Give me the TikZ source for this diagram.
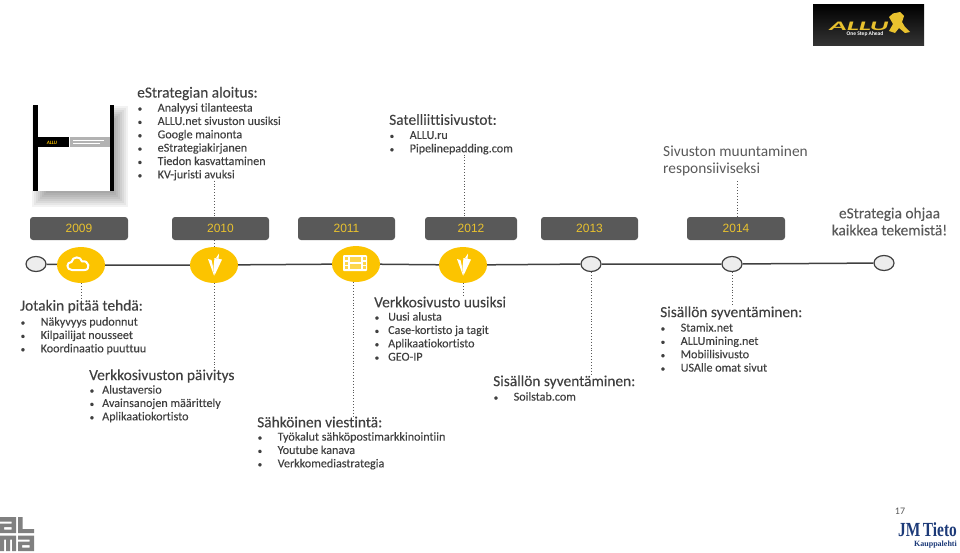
\documentclass[tikz,border=0pt]{standalone}
\usepackage{fontspec}
\setmainfont{Carlito}[Ligatures=NoCommon, FakeBold=0.12]
\newfontfamily\softfont{Carlito}[Ligatures=NoCommon]
\newfontfamily\yearfont{Liberation Sans}
\newfontfamily\logofont{Liberation Serif}
\usetikzlibrary{positioning,shapes.geometric}

\definecolor{txtgrey}{HTML}{404040}
\definecolor{softgrey}{HTML}{595959}
\definecolor{boxgrey}{HTML}{595959}
\definecolor{yeargold}{HTML}{E9C22E}
\definecolor{hubgold}{HTML}{FCC400}
\definecolor{almagrey}{HTML}{808080}
\definecolor{jmblue}{HTML}{1C3A78}

\newcommand{\itm}[2][20pt]{\makebox[#1][l]{\fontsize{9}{10}\selectfont\textbullet}#2}

\tikzset{
  yearbox/.style={rectangle, fill=boxgrey, rounded corners=3pt, minimum height=23pt, inner sep=0pt, text=yeargold, font=\yearfont\fontsize{12}{14}\selectfont},
  hub/.style={ellipse, fill=hubgold, minimum width=48pt, minimum height=36pt, inner sep=0pt},
  stop/.style={ellipse, draw=txtgrey, line width=1.2pt, fill=white!93!black, minimum width=20pt, minimum height=15pt, inner sep=0pt},
  head/.style={anchor=west, inner sep=0pt, text=txtgrey, font=\fontsize{15.4}{17}\selectfont},
  items/.style={anchor=north west, inner sep=0pt, align=left, text=txtgrey, font=\fontsize{12.1}{13.35}\selectfont},
  leader/.style={dotted, line width=0.9pt, draw=softgrey},
  carrot/.pic={
    \fill[white] (-6,-6) -- (-2.5,-5) -- (-0.5,4) -- (0,10.5) -- cycle;
    \fill[white] (0.5,-7) -- (8,-5.5) -- (0.5,10.5) -- (-0.5,2) -- cycle;
    \fill[white] (2,-7) -- (5,-11.5) -- (4.5,-6) -- cycle;
  }
}

\begin{document}
\begin{tikzpicture}[x=1pt, y=-1pt]
\useasboundingbox (0,0) rectangle (960,552);

% Year boxes
\node (y2009) [yearbox, minimum width=98pt] at (79,228.5) {2009};
\node (y2010) [yearbox, minimum width=97pt] at (220.5,228.5) {2010};
\node (y2011) [yearbox, minimum width=97pt] at (346.5,228.5) {2011};
\node (y2012) [yearbox, minimum width=92pt] at (471,228.5) {2012};
\node (y2013) [yearbox, minimum width=97pt] at (589.5,228.5) {2013};
\node (y2014) [yearbox, minimum width=98pt] at (736,228.5) {2014};

% Timeline stops
\node (start) [stop] at (36,264) {};
\node (hub2009) [hub] at (81,265) {};
\node (hub2010) [hub] at (214,265) {};
\node (hub2011) [hub] at (356,264) {};
\node (hub2012) [hub] at (463,265) {};
\node (stop2013) [stop] at (591,264) {};
\node (stop2014) [stop] at (732,264) {};
\node (finish) [stop] at (884,263) {};

\draw[line width=1.5pt, draw=txtgrey] (start) -- (hub2009) -- (hub2010) -- (hub2011) -- (hub2012) -- (stop2013) -- (stop2014) -- (finish);

% Upper texts
\node (aloitus) [head] at (137,93.5) {eStrategian aloitus:};
\node (aloituslist) [items] at (137.5,103) {\itm{Analyysi tilanteesta}\\ \itm{ALLU.net sivuston uusiksi}\\ \itm{Google mainonta}\\ \itm{eStrategiakirjanen}\\ \itm{Tiedon kasvattaminen}\\ \itm{KV-juristi avuksi}};
\node (satelliitti) [head] at (389,119.5) {Satelliittisivustot:};
\node (satelliittilist) [items] at (389.5,131) {\itm{ALLU.ru}\\ \itm{Pipelinepadding.com}};
\node (muunto) [head, align=left, anchor=north west, text=softgrey, font=\softfont\fontsize{15.4}{17}\selectfont] at (663,146) {Sivuston muuntaminen\\ responsiiviseksi};
\node (ohjaa) [align=center, inner sep=0pt, text=softgrey, font=\fontsize{15.4}{17}\selectfont] at (889.5,221.5) {eStrategia ohjaa\\ kaikkea tekemistä!};

% Lower texts
\node (tehda) [head] at (20,306.5) {Jotakin pitää tehdä:};
\node (tehdalist) [items] at (20.5,317) {\itm{Näkyvyys pudonnut}\\ \itm{Kilpailijat nousseet}\\ \itm{Koordinaatio puuttuu}};
\node (paivitys) [head] at (89,376) {Verkkosivuston päivitys};
\node (paivityslist) [items] at (89.5,385) {\itm[12.5pt]{Alustaversio}\\ \itm[12.5pt]{Avainsanojen määrittely}\\ \itm[12.5pt]{Aplikaatiokortisto}};
\node (viestinta) [head] at (257,422) {Sähköinen viestintä:};
\node (viestintalist) [items] at (257.5,432) {\itm{Työkalut sähköpostimarkkinointiin}\\ \itm{Youtube kanava}\\ \itm{Verkkomediastrategia}};
\node (uusiksi) [head] at (374,302) {Verkkosivusto uusiksi};
\node (uusiksilist) [items] at (374.5,312) {\itm[13.5pt]{Uusi alusta}\\ \itm[13.5pt]{Case-kortisto ja tagit}\\ \itm[13.5pt]{Aplikaatiokortisto}\\ \itm[13.5pt]{GEO-IP}};
\node (syventaa) [head] at (493,382) {Sisällön syventäminen:};
\node (syventaalist) [items] at (493.5,392) {\itm{Soilstab.com}};
\node (sisalto) [head] at (660,313) {Sisällön syventäminen:};
\node (sisaltolist) [items] at (660.5,323) {\itm{Stamix.net}\\ \itm{ALLUmining.net}\\ \itm{Mobiilisivusto}\\ \itm{USAlle omat sivut}};

% Dotted leaders
\draw[leader] (aloituslist.south -| hub2010) -- (y2010.north -| hub2010);
\draw[leader] (y2010.south -| hub2010) -- (hub2010);
\draw[leader] (hub2010) -- (paivitys.north -| hub2010);
\draw[leader] (hub2009) -- (tehda.north -| hub2009);
\draw[leader] (hub2011) ++(-3,0) coordinate (drop2011) (drop2011 |- hub2011.south) -- (drop2011 |- viestinta.north);
\draw[leader] (satelliittilist.south -| hub2012) ++(1.5,0) coordinate (drop2012) -- (drop2012 |- y2012.north);
\draw[leader] (hub2012) -- (uusiksi.north -| hub2012);
\draw[leader] (stop2013) -- (syventaa.north -| stop2013);
\draw[leader] (muunto.south -| y2014) ++(1,5) coordinate (drop2014) -- (drop2014 |- y2014.north);
\draw[leader] (stop2014) -- (sisalto.north -| stop2014);

% Hub icons
\draw[white, line width=2pt, line join=round] (72,270) .. controls (66,270) and (66,262) .. (71.5,262) .. controls (72.5,256) and (81,256) .. (82,261.5) .. controls (89,259.5) and (91,270) .. (84.5,270) -- cycle;
\pic at (hub2010) {carrot};
\pic at (hub2012) {carrot};
\fill[white, rounded corners=1pt] (343,255) rectangle (367,271);
\foreach \yy in {257,261.5,266} {
  \fill[hubgold!70] (345,\yy) rectangle (348,\yy+3);
  \fill[hubgold!70] (362.5,\yy) rectangle (365.5,\yy+3);
}
\fill[hubgold!70] (350,257) rectangle (360.5,262.3);
\fill[hubgold!70] (350,264) rectangle (360.5,269.3);

% Book cover
\foreach \ss in {14,12,...,0} {
  \fill[black, opacity=0.05] (46-\ss,120-\ss) rectangle (114+\ss,193+\ss);
}
\fill[white] (33,105) rectangle (114,191);
\fill[black] (33,105) rectangle (37.5,191);
\fill[black] (109.5,105) rectangle (114,191);
\fill[black] (37.5,137) rectangle (69,147);
\fill[black!30] (70,137) rectangle (109.5,147);
\node (bookmark) [inner sep=0pt, text=hubgold, font=\softfont\bfseries\itshape\fontsize{5}{6}\selectfont] at (52,142.5) {ALLU};
\draw[white, line width=0.6pt] (73,140.5) -- (104,140.5) (73,143.5) -- (100,143.5);

% Top right logo
\shade[top color=black, bottom color=black!80] (813,4) rectangle (924,45);
\node (allu) [inner sep=0pt, text=yeargold, transform shape, xscale=2.2, font=\softfont\bfseries\itshape\fontsize{13}{14}\selectfont] at (859,26) {ALLU};
\node (ahead) [inner sep=0pt, text=white, font=\softfont\bfseries\fontsize{5.5}{6}\selectfont] at (865,34.5) {One Step Ahead};
\fill[yeargold] (889,17) -- (893,13.5) -- (900,12) -- (904,16) -- (902,22) -- (905,27) -- (910,32) -- (905,33) -- (899,28) -- (895,33) -- (889,31) -- (893,24) -- cycle;

% Bottom left logo
\fill[almagrey] (0,517) rectangle (16,521.5) (11.5,517) rectangle (16,533) (0,523.5) rectangle (16,527) (0,523.5) rectangle (4,533) (0,529.5) rectangle (16,533);
\fill[almagrey] (18,517) rectangle (22.5,533) (18,529) rectangle (34,533);
\fill[almagrey] (0,535.5) rectangle (16,539.5) (0,535.5) rectangle (4,551) (6,535.5) rectangle (10,551) (12,535.5) rectangle (16,551);
\fill[almagrey] (18,535.5) rectangle (34,539.5) (29.5,535.5) rectangle (34,551) (18,541.5) rectangle (34,545) (18,541.5) rectangle (22,551) (18,547.5) rectangle (34,551);

% Bottom right logo and page number
\node (pagenr) [inner sep=0pt, text=softgrey, font=\softfont\fontsize{10}{12}\selectfont] at (900,511) {17};
\node (jmtieto) [inner sep=0pt, text=jmblue, transform shape, xscale=0.77, font=\logofont\bfseries\fontsize{20}{21}\selectfont] at (927.5,529.5) {JM\,Tieto};
\node (kauppalehti) [inner sep=0pt, text=jmblue, font=\logofont\bfseries\fontsize{8}{9}\selectfont] at (935.5,544.5) {Kauppalehti};

\end{tikzpicture}
\end{document}
